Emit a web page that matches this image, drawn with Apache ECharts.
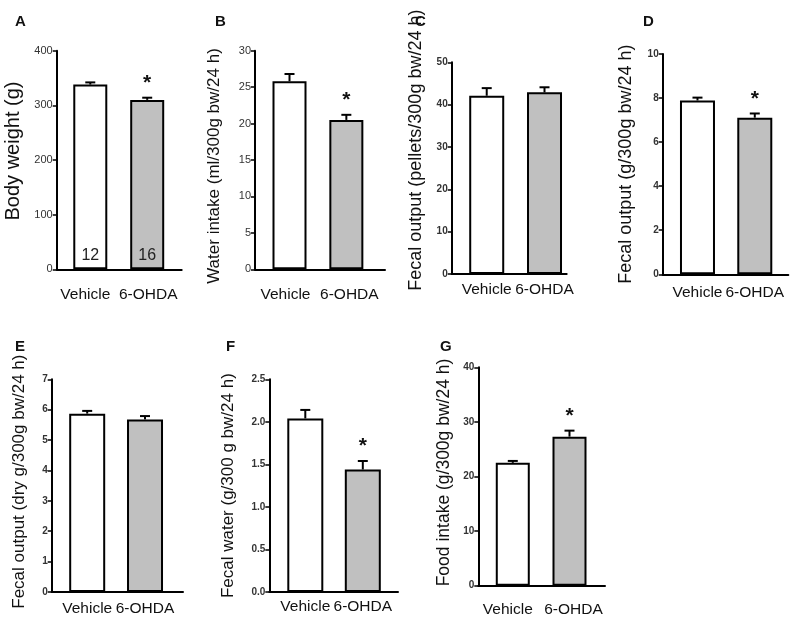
<!DOCTYPE html>
<html lang="en">
<head>
<meta charset="UTF-8">
<title>Vehicle vs 6-OHDA</title>
<script src="https://cdn.jsdelivr.net/npm/echarts@6/dist/echarts.min.js"></script>
<style>
    * {
        margin: 0;
        padding: 0;
    }

    body {
        background: #fff;
    }

    #main {
        width: 797px;
        height: 622px;
    }
</style>
</head>
<body>
<div id="main"></div>
<script>
    // groups on every x axis, and the n shown inside the bars of panel A
    var groups = ['Vehicle', '6-OHDA'];
    var groupN = ['12', '16'];

    // mean and SEM per panel
    var bodyWeight = [338, 310];
    var bodyWeightSem = [4, 4];
    var waterIntake = [25.8, 20.5];
    var waterIntakeSem = [1.0, 0.7];
    var fecalPellets = [42.1, 42.9];
    var fecalPelletsSem = [1.8, 1.2];
    var fecalWet = [7.89, 7.11];
    var fecalWetSem = [0.13, 0.19];
    var fecalDry = [5.87, 5.68];
    var fecalDrySem = [0.09, 0.11];
    var fecalWater = [2.04, 1.44];
    var fecalWaterSem = [0.10, 0.10];
    var foodIntake = [22.5, 27.3];
    var foodIntakeSem = [0.35, 1.1];

    // significance marks
    var starsA = ['', '*'];
    var starsB = ['', '*'];
    var starsC = ['', ''];
    var starsD = ['', '*'];
    var starsE = ['', ''];
    var starsF = ['', '*'];
    var starsG = ['', '*'];

    var FONT = 'Arial, "Liberation Sans", sans-serif';
    var barColors = ['#ffffff', '#c0c0c0'];

    // layout of each panel (pixels), kept apart from the data
    // lx: horizontal nudge of the two group labels
    var panels = [
        { tag: 'A', tagPos: [10, 9], name: 'Body weight (g)', mean: bodyWeight, sem: bodyWeightSem, stars: starsA,
          yMax: 400, step: 100, grid: [56.7, 50.7, 125, 218.6], xr: [0.41, 2.606], bw: 34,
          nameGap: 33, nameSize: 20, shift: 9, labelMargin: 17, lx: [-5, 1], boldTicks: false, showN: true },
        { tag: 'B', tagPos: [210, 9], name: 'Water intake (ml/300g bw/24 h)', mean: waterIntake, sem: waterIntakeSem, stars: starsB,
          yMax: 30, step: 5, grid: [255, 50.7, 130, 218.6], xr: [0.393, 2.68], bw: 34,
          nameGap: 32, nameSize: 17, shift: -6, labelMargin: 17, lx: [-4, 3], boldTicks: false },
        { tag: 'C', tagPos: [410, 9], name: 'Fecal output (pellets/300g bw/24 h)', mean: fecalPellets, sem: fecalPelletsSem, stars: starsC,
          yMax: 50, step: 10, grid: [451.7, 62.3, 115, 211.7], xr: [0.394, 2.384], bw: 35,
          nameGap: 27, nameSize: 18, shift: 18, labelMargin: 8, lx: [0, 0], boldTicks: true },
        { tag: 'D', tagPos: [638, 9], name: 'Fecal output (g/300g bw/24 h)', mean: fecalWet, sem: fecalWetSem, stars: starsD,
          yMax: 10, step: 2, grid: [662.7, 54, 125.6, 220.3], xr: [0.393, 2.585], bw: 35,
          nameGap: 28, nameSize: 18, shift: 0, labelMargin: 10, lx: [0, 0], boldTicks: true },
        { tag: 'E', tagPos: [10, 334], name: 'Fecal output (dry g/300g bw/24 h)', mean: fecalDry, sem: fecalDrySem, stars: starsE,
          yMax: 7, step: 1, grid: [51.7, 379.3, 131.3, 212.7], xr: [0.386, 2.657], bw: 36,
          nameGap: 24, nameSize: 17, shift: 4, labelMargin: 9, lx: [0, 0], boldTicks: true },
        { tag: 'F', tagPos: [221, 334], name: 'Fecal water (g/300 g bw/24 h)', mean: fecalWater, sem: fecalWaterSem, stars: starsF,
          yMax: 2.5, step: 0.5, grid: [269.3, 379.3, 128.7, 212.7], xr: [0.374, 2.612], bw: 36,
          nameGap: 32, nameSize: 17, shift: 0, labelMargin: 7, lx: [0, 0], boldTicks: true, decimals: 1 },
        { tag: 'G', tagPos: [435, 334], name: 'Food intake (g/300g bw/24 h)', mean: foodIntake, sem: foodIntakeSem, stars: starsG,
          yMax: 40, step: 10, grid: [478.3, 367.3, 126.7, 218.4], xr: [0.392, 2.626], bw: 34,
          nameGap: 25, nameSize: 17.5, shift: 4, labelMargin: 16, lx: [-5, 4], boldTicks: true }
    ];

    function errorRender(stars) {
        return function (params, api) {
            var x = api.value(0);
            var base = api.coord([x, api.value(1)]);
            var end = api.coord([x, api.value(2)]);
            var lineStyle = { stroke: '#000', lineWidth: 2 };
            var children = [
                { type: 'line', shape: { x1: base[0], y1: base[1], x2: end[0], y2: end[1] }, style: lineStyle },
                { type: 'line', shape: { x1: end[0] - 5, y1: end[1], x2: end[0] + 5, y2: end[1] }, style: lineStyle }
            ];
            var s = stars[params.dataIndex];
            if (s) {
                children.push({
                    type: 'text',
                    style: {
                        text: s, x: end[0], y: end[1] - 4,
                        align: 'center', verticalAlign: 'bottom',
                        font: 'bold 21px ' + FONT, fill: '#111'
                    }
                });
            }
            return { type: 'group', children: children };
        };
    }

    // shifting a centred label by dx = padding on one side of 2*|dx|
    function nudge(dx) {
        var pad = dx >= 0 ? [0, 0, 0, 2 * dx] : [0, -2 * dx, 0, 0];
        return { padding: pad, fontFamily: FONT, fontSize: 15.5, color: '#111' };
    }

    var option = {
        animation: false,
        backgroundColor: '#fff',
        title: [],
        grid: [],
        xAxis: [],
        yAxis: [],
        series: []
    };

    panels.forEach(function (p, i) {
        option.title.push({
            text: p.tag, left: p.tagPos[0], top: p.tagPos[1],
            textStyle: { fontFamily: FONT, fontSize: 15, fontWeight: 'bold', color: '#111' }
        });
        option.grid.push({ left: p.grid[0], top: p.grid[1], width: p.grid[2], height: p.grid[3] });
        option.xAxis.push({
            type: 'value', gridIndex: i, min: p.xr[0], max: p.xr[1],
            splitLine: { show: false },
            axisLine: { show: true, lineStyle: { color: '#000', width: 2 } },
            axisTick: { show: false },
            axisLabel: {
                customValues: [1, 2],
                formatter: function (v) {
                    var k = Math.round(v) - 1;
                    return groups[k] ? '{g' + k + '|' + groups[k] + '}' : '';
                },
                rich: { g0: nudge(p.lx[0]), g1: nudge(p.lx[1]) },
                margin: p.labelMargin, fontFamily: FONT, fontSize: 15.5, color: '#111'
            }
        });
        var pad = p.shift >= 0 ? [0, 0, 0, 2 * p.shift] : [0, -2 * p.shift, 0, 0];
        option.yAxis.push({
            type: 'value', gridIndex: i, min: 0, max: p.yMax, interval: p.step,
            name: p.name, nameLocation: 'middle', nameGap: p.nameGap,
            nameTextStyle: { fontFamily: FONT, fontSize: p.nameSize, color: '#111', padding: pad },
            splitLine: { show: false },
            axisLine: { show: true, lineStyle: { color: '#000', width: 2 } },
            axisTick: { show: true, length: 4, lineStyle: { color: '#000', width: 1.5 } },
            axisLabel: {
                margin: 4, fontFamily: FONT, color: '#333',
                fontSize: p.boldTicks ? 10 : 11,
                fontWeight: p.boldTicks ? 'bold' : 'normal',
                formatter: function (v) { return p.decimals ? v.toFixed(p.decimals) : String(v); }
            }
        });
        option.series.push({
            type: 'bar', xAxisIndex: i, yAxisIndex: i, barWidth: p.bw,
            data: groups.map(function (g, k) {
                return {
                    value: [k + 1, p.mean[k]],
                    itemStyle: { color: barColors[k], borderColor: '#000', borderWidth: 2 }
                };
            }),
            label: {
                show: !!p.showN, position: 'insideBottom', distance: 6,
                fontFamily: FONT, fontSize: 16, color: '#222',
                formatter: function (d) { return groupN[d.dataIndex]; }
            }
        });
        option.series.push({
            type: 'custom', xAxisIndex: i, yAxisIndex: i, z: 3,
            renderItem: errorRender(p.stars),
            data: groups.map(function (g, k) { return [k + 1, p.mean[k], p.mean[k] + p.sem[k]]; })
        });
    });

    var chart = echarts.init(document.getElementById('main'));
    chart.setOption(option);
</script>
</body>
</html>
